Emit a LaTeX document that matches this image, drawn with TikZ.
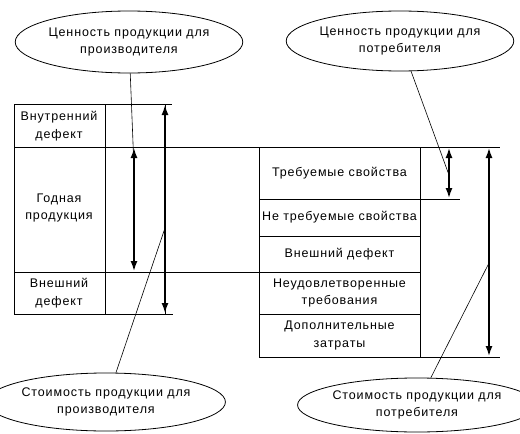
\documentclass[tikz,border=0pt]{standalone}
\usepackage{fontspec}
\setmainfont[LetterSpace=7]{Liberation Sans}
\usetikzlibrary{shapes.geometric,arrows.meta}
\begin{document}
\begin{tikzpicture}[x=1pt,y=-1pt,
  frame/.style={line width=0.8pt},
  span/.style={line width=1.5pt,
    {Latex[length=10pt,width=7pt]}-{Latex[length=10pt,width=7pt]}},
  bubble/.style={ellipse,draw,line width=0.8pt,inner sep=0pt,align=center,
    font=\fontsize{12.5}{17.5}\selectfont},
  label/.style={align=center,inner sep=0pt,font=\fontsize{12.5}{17.5}\selectfont},
  leader/.style={line width=0.6pt}
]
\useasboundingbox (0,0) rectangle (520,434);

% left table: producer side
\draw[frame] (14,104) rectangle (165,314);
\draw[frame] (105,104) -- (105,314);
\draw[frame] (165,104) -- (172,104);
\draw[frame] (14,147) -- (500,147);
\draw[frame] (14,272) -- (420,272);
\draw[frame] (165,314) -- (173,314);

\node[label] (intdef) at (59,126) {Внутренний\\дефект};
\node[label] (good)   at (59,208) {Годная\\продукция};
\node[label] (extdef) at (59,293) {Внешний\\дефект};

% right table: consumer side
\draw[frame] (259,147) rectangle (420,357);
\draw[frame] (259,199) -- (460,199);
\draw[frame] (259,236) -- (420,236);
\draw[frame] (259,314) -- (420,314);
\draw[frame] (420,357) -- (500,357);

\node[label] (req)    at (339.5,173) {Требуемые свойства};
\node[label] (nreq)   at (339.5,217.5) {Не требуемые свойства};
\node[label] (extdf2) at (339.5,254) {Внешний дефект};
\node[label] (unsat)  at (339.5,293) {Неудовлетворенные\\требования};
\node[label] (extra)  at (339.5,335.5) {Дополнительные\\затраты};

% dimension arrows
\coordinate (gA) at (134,148);  \coordinate (gB) at (134,271);
\coordinate (lA) at (165,105);  \coordinate (lB) at (165,313);
\coordinate (rA) at (449,148);  \coordinate (rB) at (449,198);
\coordinate (cA) at (489,148);  \coordinate (cB) at (489,356);
\draw[span] (gA) -- (gB);
\draw[span] (lA) -- (lB);
\draw[span] (rA) -- (rB);
\draw[span] (cA) -- (cB);

% callouts
\node[bubble,minimum width=188pt,minimum height=62pt] (valP) at (129,42)
  {Ценность продукции для\\производителя};
\node[bubble,minimum width=196pt,minimum height=60pt] (valC) at (400,41)
  {Ценность продукции для\\потребителя};
\node[bubble,minimum width=202pt,minimum height=58pt] (costP) at (106,402)
  {Стоимость продукции для\\производителя};
\node[bubble,minimum width=200pt,minimum height=54pt] (costC) at (417,405)
  {Стоимость продукции для\\потребителя};

\coordinate (pv) at (134,168);
\coordinate (cv) at (449,175);
\coordinate (pc) at (165,228);
\coordinate (cc) at (489,263);
\draw[leader] (valP) -- (pv);
\draw[leader] (valC) -- (cv);
\draw[leader] (costP) -- (pc);
\draw[leader] (costC) -- (cc);
\end{tikzpicture}
\end{document}
